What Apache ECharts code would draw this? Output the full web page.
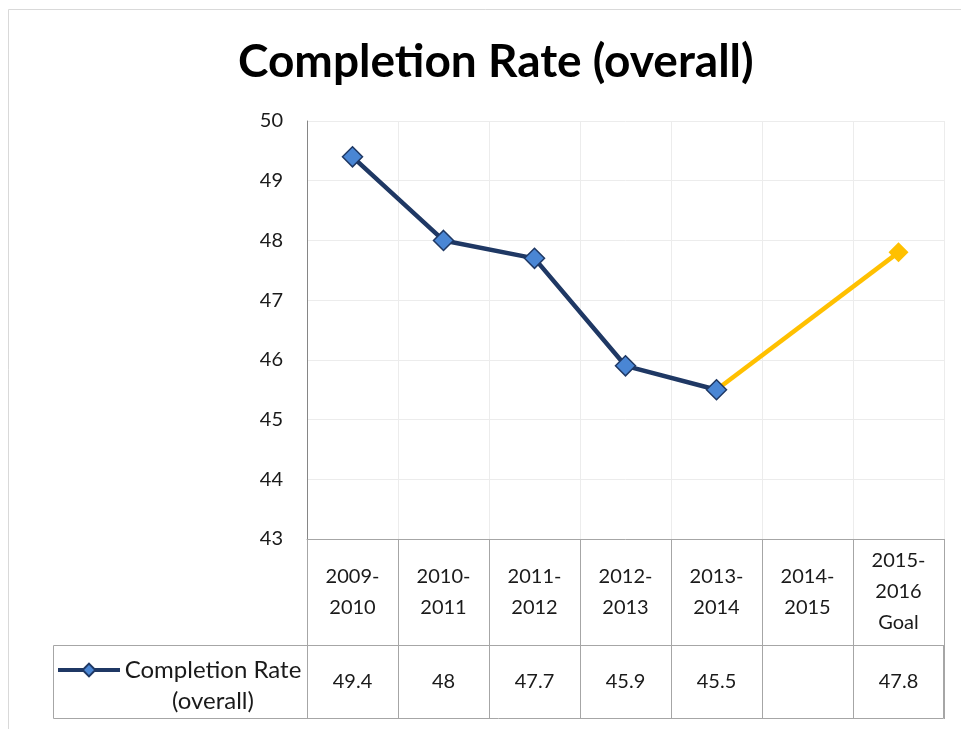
<!DOCTYPE html>
<html>
<head>
<meta charset="utf-8">
<script src="https://cdn.jsdelivr.net/npm/echarts@6/dist/echarts.min.js"></script>
<style>
  html, body { margin: 0; padding: 0; background: #fff; }
  #main { width: 961px; height: 729px; }
</style>
</head>
<body>
<div id="main"></div>
<script>
// data
var categories = ["2009-\n2010", "2010-\n2011", "2011-\n2012", "2012-\n2013", "2013-\n2014", "2014-\n2015", "2015-\n2016\nGoal"];
var rateValues = [49.4, 48, 47.7, 45.9, 45.5, null, null];
var goalValues = [null, null, null, null, 45.5, null, 47.8];
var yTicks = { min: 43, max: 50, interval: 1 };

// data table row: the measured value, else the goal
var tableValues = categories.map(function (c, i) {
  if (rateValues[i] != null) return rateValues[i];
  if (goalValues[i] != null) return goalValues[i];
  return "";
});

var font = "Lato, 'Open Sans', sans-serif";
var tableColor = "#a6a6a6";

var chart = echarts.init(document.getElementById("main"));
var option = {
  backgroundColor: "#fff",
  animation: false,
  title: {
    text: "Completion Rate (overall)",
    left: 233,
    top: 34,
    textStyle: { fontFamily: font, fontSize: 46, fontWeight: "bold", color: "#000" }
  },
  legend: {
    data: ["Completion Rate (overall)"],
    left: 56,
    top: 658,
    padding: 0,
    itemWidth: 62,
    itemHeight: 16,
    lineStyle: { width: 4 },
    formatter: function () {
      return "{a|Completion Rate}\n{a|(overall)}";
    },
    textStyle: {
      fontFamily: font,
      fontSize: 24,
      color: "#1a1a1a",
      padding: [31, 0, 0, 0],
      rich: {
        a: { fontFamily: font, fontSize: 24, lineHeight: 31, width: 176, align: "center", color: "#1a1a1a" }
      }
    }
  },
  grid: { left: 307, right: 17, top: 121, bottom: 190 },
  xAxis: [
    {
      type: "category",
      data: categories,
      boundaryGap: true,
      axisLine: { show: true, lineStyle: { color: tableColor, width: 1 } },
      axisTick: { show: true, interval: 0, length: 106, lineStyle: { color: tableColor } },
      splitLine: { show: true, interval: 0, lineStyle: { color: "#ececec" } },
      axisLabel: {
        interval: 0,
        margin: 53,
        verticalAlign: "middle",
        fontFamily: font,
        fontSize: 20,
        lineHeight: 31,
        color: "#1a1a1a"
      }
    },
    {
      type: "category",
      data: categories,
      position: "bottom",
      offset: 106,
      boundaryGap: true,
      axisLine: { show: true, lineStyle: { color: tableColor, width: 1 } },
      axisTick: { show: true, interval: 0, length: 74, lineStyle: { color: tableColor } },
      splitLine: { show: false },
      axisLabel: {
        interval: 0,
        margin: 37,
        verticalAlign: "middle",
        fontFamily: font,
        fontSize: 20,
        color: "#1a1a1a",
        formatter: function (v, i) { return String(tableValues[i]); }
      }
    }
  ],
  yAxis: {
    type: "value",
    min: yTicks.min,
    max: yTicks.max,
    interval: yTicks.interval,
    axisLine: { show: true, lineStyle: { color: "#868686" } },
    axisTick: { show: false },
    splitLine: { show: true, lineStyle: { color: "#ececec" } },
    axisLabel: { margin: 24, fontFamily: font, fontSize: 20, color: "#1a1a1a" }
  },
  graphic: [
    {
      type: "rect",
      shape: { x: 8.5, y: 9.5, width: 970, height: 760 },
      style: { fill: null, stroke: "#d9d9d9", lineWidth: 1 },
      silent: true
    },
    {
      type: "rect",
      shape: { x: 53.5, y: 645.5, width: 890, height: 73 },
      style: { fill: null, stroke: tableColor, lineWidth: 1 },
      silent: true
    }
  ],
  series: [
    {
      name: "Goal",
      type: "line",
      data: goalValues.map(function (v, i) {
        return i === 4 ? { value: v, symbol: "none" } : v;
      }),
      connectNulls: true,
      symbol: "diamond",
      symbolSize: 20,
      itemStyle: { color: "#ffc000" },
      lineStyle: { color: "#ffc000", width: 4.5 },
      z: 2
    },
    {
      name: "Completion Rate (overall)",
      type: "line",
      data: rateValues,
      symbol: "diamond",
      symbolSize: 20,
      itemStyle: { color: "#4a86d4", borderColor: "#1f3864", borderWidth: 1.5 },
      lineStyle: { color: "#1f3864", width: 4.5 },
      z: 3
    }
  ]
};
chart.setOption(option);
</script>
</body>
</html>
